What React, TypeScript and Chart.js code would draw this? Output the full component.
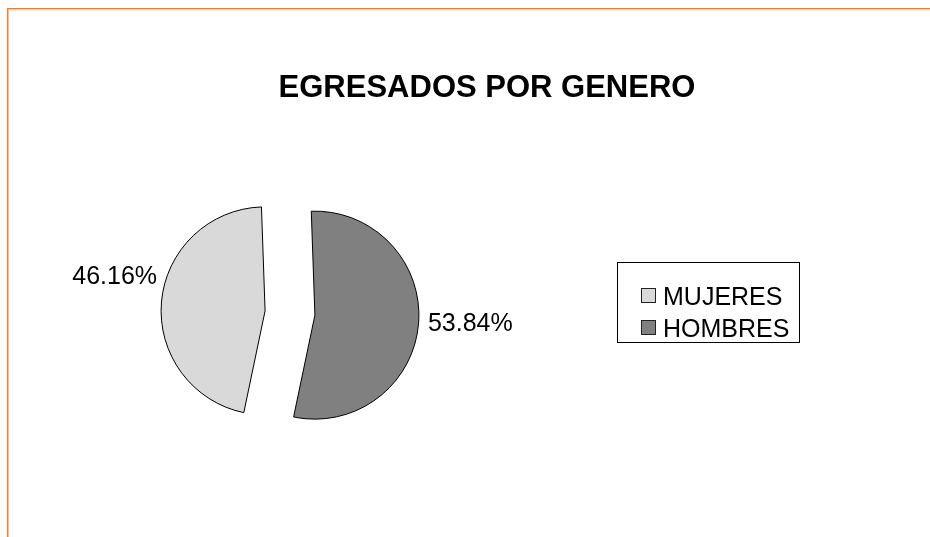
import React, { useEffect, useRef } from "react";
import { Chart, registerables } from "chart.js";

Chart.register(...registerables);

const CATEGORIES = ["MUJERES", "HOMBRES"];
const VALUES = [46.16, 53.84];
const COLORS = ["#D9D9D9", "#808080"];
const TITLE = "EGRESADOS POR GENERO";

const FONT = "'Liberation Sans', Arial, sans-serif";
const EXPLODE = 25;

export default function App() {
  const ref = useRef<HTMLCanvasElement>(null);

  useEffect(() => {
    const canvas = ref.current!;
    const total = VALUES.reduce((a, b) => a + b, 0);
    const rotation = (VALUES[1] / total) * 360 - 2;

    const decor = {
      id: "decor",
      beforeDraw(chart: any) {
        const ctx = chart.ctx as CanvasRenderingContext2D;
        ctx.save();
        ctx.fillStyle = "#FFFFFF";
        ctx.fillRect(0, 0, chart.width, chart.height);
        ctx.fillStyle = "#FF7A1E";
        ctx.fillRect(7, 8, chart.width - 7, 1.5);
        ctx.fillRect(7, 8, 1.5, chart.height - 8);
        ctx.fillStyle = "#FFD6BA";
        ctx.fillRect(8.5, 9.5, chart.width - 8, 1);
        ctx.restore();
      },
      beforeDatasetsDraw(chart: any) {
        const ctx = chart.ctx as CanvasRenderingContext2D;
        const meta = chart.getDatasetMeta(0);
        meta.data.forEach((arc: any) => {
          const mid = (arc.startAngle + arc.endAngle) / 2;
          ctx.save();
          ctx.translate(Math.cos(mid) * EXPLODE, Math.sin(mid) * EXPLODE);
          arc.draw(ctx);
          ctx.restore();
        });
        return false;
      },
      afterDraw(chart: any) {
        const ctx = chart.ctx as CanvasRenderingContext2D;
        ctx.save();
        // Title
        ctx.fillStyle = "#000000";
        ctx.font = `bold 31px ${FONT}`;
        ctx.textAlign = "center";
        ctx.textBaseline = "alphabetic";
        ctx.fillText(TITLE, 487, 97);

        // Percent labels
        const meta = chart.getDatasetMeta(0);
        ctx.font = `25px ${FONT}`;
        meta.data.forEach((arc: any, i: number) => {
          const mid = (arc.startAngle + arc.endAngle) / 2;
          const cx = arc.x + Math.cos(mid) * EXPLODE;
          const cy = arc.y + Math.sin(mid) * EXPLODE;
          const r = arc.outerRadius;
          const txt = VALUES[i].toFixed(2) + "%";
          if (Math.cos(mid) < 0) {
            ctx.textAlign = "right";
            ctx.fillText(txt, cx - r - 4, cy - 27);
          } else {
            ctx.textAlign = "left";
            ctx.fillText(txt, cx + r + 9, cy + 16);
          }
        });

        // Legend
        ctx.strokeStyle = "#000000";
        ctx.lineWidth = 1;
        ctx.strokeRect(617.5, 262.5, 182, 80);
        ctx.textAlign = "left";
        CATEGORIES.forEach((label, i) => {
          const y = 288 + i * 32;
          ctx.fillStyle = COLORS[i];
          ctx.fillRect(641, y, 14, 14);
          ctx.strokeStyle = "#222222";
          ctx.strokeRect(641.5, y + 0.5, 14, 14);
          ctx.fillStyle = "#000000";
          ctx.fillText(label, 663, y + 17);
        });
        ctx.restore();
      },
    };

    const chart = new Chart(canvas, {
      type: "pie",
      data: {
        labels: CATEGORIES,
        datasets: [
          {
            data: VALUES,
            backgroundColor: COLORS,
            borderColor: "#000000",
            borderWidth: 1,
            radius: 104,
            rotation,
          } as any,
        ],
      },
      options: {
        responsive: false,
        animation: false,
        events: [],
        layout: { padding: { left: 20, right: 370, top: 120, bottom: 31 } },
        plugins: {
          legend: { display: false },
          tooltip: { enabled: false },
          title: { display: false },
        },
      },
      plugins: [decor],
    });
    return () => chart.destroy();
  }, []);

  return (
    <div style={{ position: "absolute", left: 0, top: 0, width: 930, height: 537 }}>
      <canvas ref={ref} width={930} height={537} style={{ display: "block" }} />
    </div>
  );
}
